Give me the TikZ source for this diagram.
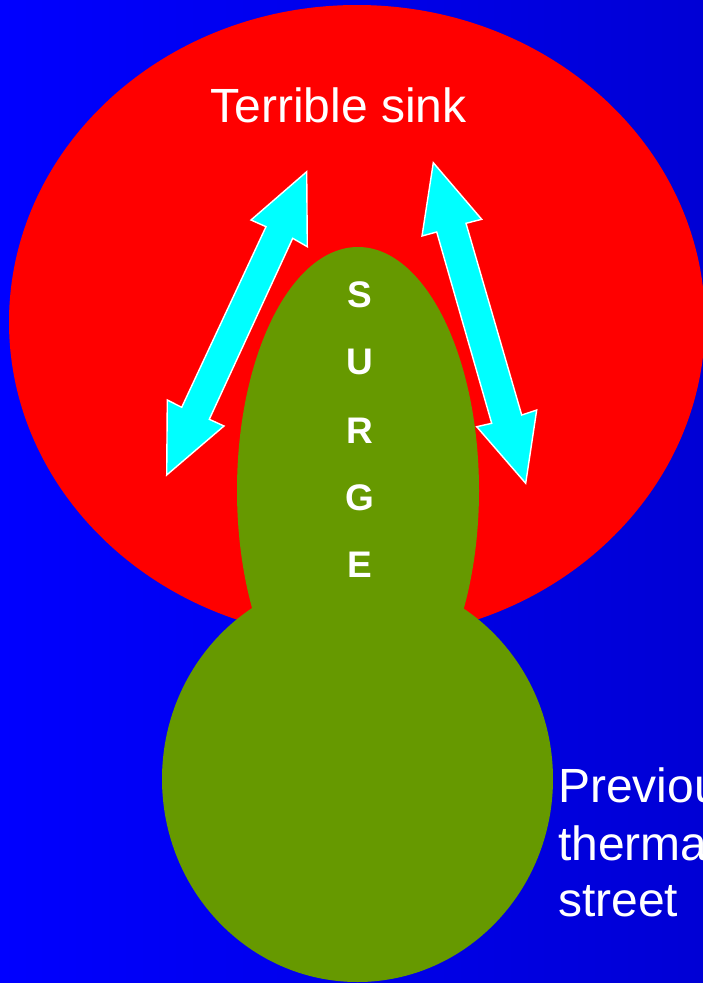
\documentclass[tikz,border=0pt]{standalone}
\usepackage{fontspec}
\setmainfont{Liberation Sans}
\definecolor{bgblue}{HTML}{0000FF}
\definecolor{bgdark}{HTML}{0000C0}
\definecolor{sinkred}{HTML}{FF0000}
\definecolor{surgegreen}{HTML}{669900}
\definecolor{arrowcyan}{HTML}{00FFFF}
\pgfdeclarehorizontalshading{bgshade}{100bp}{color(0bp)=(bgblue); color(25bp)=(bgblue); color(100bp)=(bgdark)}
\tikzset{
  blob/.style={fill=surgegreen, draw=none},
  dblarrow/.style={fill=arrowcyan, draw=white, line width=1.4pt, line join=miter},
  bigtext/.style={text=white, font=\fontsize{48}{57}\selectfont, inner sep=0pt},
  surgeletter/.style={text=white, font=\bfseries\fontsize{37}{44}\selectfont, inner sep=0pt},
}
\begin{document}
\begin{tikzpicture}[x=1pt, y=-1pt]
\useasboundingbox (0,0) rectangle (703,983);
\clip (0,0) rectangle (703,983);
% background
\shade[shading=bgshade] (0,0) rectangle (703,983);
% terrible sink
\fill[sinkred] (357,322) ellipse [x radius=348, y radius=317];
% thermal street and surge
\fill[blob] (357.5,779) ellipse [x radius=195.5, y radius=203];
\fill[blob] (358,490.4) ellipse [x radius=121, y radius=243.4];
% left double arrow
\draw[dblarrow] (306.7,171.7) -- (307.3,246.7) -- (292.7,238.3) -- (209.3,419.3) -- (224,426)
  -- (166.7,475) -- (167.3,400) -- (181.7,407.3) -- (266,226.7) -- (251,220) -- cycle;
% right double arrow
\draw[dblarrow] (433.3,162.7) -- (481.7,219.3) -- (466,223.3) -- (521.7,415) -- (536.7,410)
  -- (525.7,483.3) -- (476.7,426.7) -- (491.7,423.3) -- (436.7,232) -- (422,236) -- cycle;
% texts
\node[bigtext, anchor=base] (sink) at (338.4,122.7) {Terrible sink};
\node[surgeletter, anchor=center] (s1) at (360,295) {S};
\node[surgeletter, anchor=center] (s2) at (360,362) {U};
\node[surgeletter, anchor=center] (s3) at (360,431) {R};
\node[surgeletter, anchor=center] (s4) at (360,497.5) {G};
\node[surgeletter, anchor=center] (s5) at (360,565) {E};
\node[bigtext, anchor=base west] (prev1) at (558,802.7) {Previous};
\node[bigtext, anchor=base west] (prev2) at (558,860) {thermal};
\node[bigtext, anchor=base west] (prev3) at (558,916.7) {street};
\end{tikzpicture}
\end{document}
